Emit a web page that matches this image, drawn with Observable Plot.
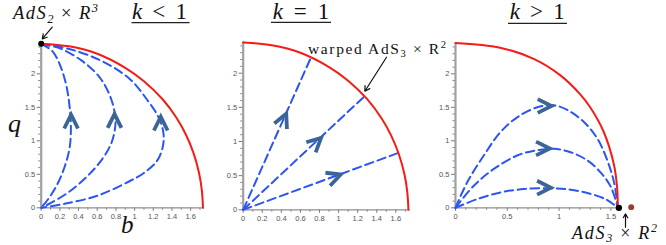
<!DOCTYPE html>
<html><head><meta charset="utf-8">
<script src="https://cdn.jsdelivr.net/npm/d3@7"></script>
<script src="https://cdn.jsdelivr.net/npm/@observablehq/plot@0.6"></script>
<style>
html,body{margin:0;padding:0;background:#fff;}
#wrap{position:relative;width:666px;height:245px;overflow:hidden;background:#fff;}
#wrap svg.pp{position:absolute;top:0;}
#ov{position:absolute;left:0;top:0;pointer-events:none;}
#ov text{font-family:'Liberation Serif','Times New Roman',serif;fill:#111;}
</style></head>
<body><div id="wrap"></div>
<script>
// ---------- data ----------
// red boundary curves [b, q]
const redLeft = [[0,2.45],[0.3,2.41],[0.6,2.30],[0.9,2.09],[1.1,1.89],[1.3,1.62],[1.45,1.34],[1.55,1.09],[1.63,0.82],[1.69,0.52],[1.72,0.26],[1.732,0]];
const redRight = [[0,2.46],[0.43,2.39],[0.76,2.22],[1.01,1.98],[1.2,1.70],[1.3,1.50],[1.43,1.135],[1.53,0.64],[1.56,0.30],[1.567,0]];

// k < 1 flows (from AdS2xR3 point to origin)
const flowsKlt1 = [
  [[0,2.44],[0.05,2.41],[0.13,2.32],[0.21,2.1],[0.27,1.82],[0.305,1.5],[0.318,1.2],[0.305,0.9],[0.26,0.65],[0.19,0.4],[0.1,0.18],[0.03,0.05],[0,0]],
  [[0,2.44],[0.18,2.39],[0.43,2.2],[0.63,1.94],[0.75,1.62],[0.795,1.32],[0.78,1.1],[0.74,0.93],[0.65,0.72],[0.5,0.48],[0.3,0.24],[0.1,0.07],[0,0]],
  [[0,2.44],[0.3,2.37],[0.65,2.19],[0.95,1.92],[1.13,1.62],[1.26,1.34],[1.31,1.1],[1.3,0.9],[1.24,0.7],[1.1,0.52],[0.95,0.4],[0.6,0.18],[0.25,0.06],[0,0]]
];
// k = 1 flows (straight rays)
const flowsK1 = [
  [[0,0],[0.71,2.23]],
  [[0,0],[1.27,1.66]],
  [[0,0],[1.64,0.84]]
];
// k > 1 flows (origin to AdS3xR2 point)
const flowsKgt1 = [
  [[0,0],[0.113,0.38],[0.273,0.78],[0.434,1.13],[0.595,1.35],[0.788,1.5],[0.95,1.53],[1.08,1.46],[1.24,1.28],[1.37,1.03],[1.46,0.73],[1.53,0.38],[1.567,0]],
  [[0,0],[0.177,0.33],[0.37,0.58],[0.595,0.78],[0.788,0.86],[0.95,0.88],[1.11,0.83],[1.27,0.71],[1.40,0.53],[1.5,0.31],[1.567,0]],
  [[0,0],[0.21,0.13],[0.434,0.23],[0.66,0.28],[0.917,0.29],[1.11,0.27],[1.30,0.21],[1.46,0.12],[1.567,0]]
];
// direction chevrons [b, q, angle(deg clockwise from up)]
const chevKlt1 = [[0.32,1.28,0],[0.785,1.29,0],[1.28,1.25,0]];
const chevK1 = [[0.42,1.31,24],[0.76,0.98,47],[0.95,0.48,70]];
const chevKgt1 = [[0.856,1.52,90],[0.84,0.885,90],[0.85,0.30,90]];
// fixed points
const ptsKlt1 = [{b:0, q:2.45, c:"#000", r:4.2}];
const ptsKgt1 = [{b:1.577, q:0, c:"#000", r:4.2},{b:1.696, q:0.01, c:"#9b3b33", r:3.6}];
// annotation arrows [b1,q1,b2,q2]
const arrKlt1 = [[0.118,2.695,0.012,2.52]];
const arrK1 = [[1.502,2.234,1.275,1.736]];
const arrKgt1 = [[1.641,-0.29,1.641,-0.09]];
// ticks
const xMajorA = [0,0.2,0.4,0.6,0.8,1,1.2,1.4,1.6];
const xMinorA = [0.1,0.3,0.5,0.7,0.9,1.1,1.3,1.5,1.7];
const xMajorB = [0,0.5,1,1.5];
const xMinorB = [0.1,0.2,0.3,0.4,0.6,0.7,0.8,0.9,1.1,1.2,1.3,1.4];
const yMajor = [0,0.5,1,1.5,2];
const yMinor = [0.1,0.2,0.3,0.4,0.6,0.7,0.8,0.9,1.1,1.2,1.3,1.4,1.6,1.7,1.8,1.9,2.1,2.2,2.3,2.4];

// ---------- drawing ----------
const chevron = {
  draw(ctx, size) {
    const s = Math.sqrt(size / Math.PI);
    ctx.moveTo(-0.8 * s, 0.75 * s);
    ctx.lineTo(0, -0.85 * s);
    ctx.lineTo(0.8 * s, 0.75 * s);
  }
};
const fmt = d => String(d);
const wrap = document.getElementById("wrap");

function panel(o) {
  const blueRows = o.flows.flatMap((c, i) => c.map(([b, q]) => ({b, q, s: i})));
  const redRows = o.red.map(([b, q]) => ({b, q}));
  const chev = o.chev.map(([b, q, a]) => ({b, q, a}));
  const arr = o.arrows.map(([b1, q1, b2, q2]) => ({b1, q1, b2, q2}));
  const svg = Plot.plot({
    width: o.width, height: 245,
    marginLeft: o.ml, marginRight: o.mr, marginTop: o.mt, marginBottom: o.mb,
    x: {domain: o.xDomain, label: null},
    y: {domain: o.yDomain, label: null},
    style: {background: "transparent", overflow: "visible", fontFamily: "'Liberation Sans', Arial, sans-serif"},
    marks: [
      Plot.axisX({ticks: o.xMinor, tickSize: 2.5, tickFormat: () => "", stroke: "#8a8a8a", label: null}),
      Plot.axisX({ticks: o.xMajor, tickSize: 3.5, tickPadding: 2, tickFormat: fmt, stroke: "#777", fill: "#555", fontSize: 7.5, label: null}),
      Plot.axisY({ticks: yMinor, tickSize: 2.5, tickFormat: () => "", stroke: "#8a8a8a", label: null}),
      Plot.axisY({ticks: yMajor, tickSize: 4, tickPadding: 2, tickFormat: fmt, stroke: "#777", fill: "#555", fontSize: 7.5, label: null}),
      Plot.ruleY([0], {x1: 0, x2: o.xDomain[1], stroke: "#8f8f8f", strokeWidth: 1.3}),
      Plot.ruleX([0], {y1: 0, y2: o.yDomain[1], stroke: "#a0a0a0", strokeWidth: 2.2}),
      Plot.line(blueRows, {x: "b", y: "q", z: "s", curve: o.curve, stroke: "#2c55f2", strokeWidth: 2, strokeDasharray: "8.5,4.5"}),
      Plot.line(redRows, {x: "b", y: "q", curve: "catmull-rom", stroke: "#f51c16", strokeWidth: 2}),
      Plot.dot(chev, {x: "b", y: "q", rotate: "a", symbol: chevron, r: 8.6, fill: "none", stroke: "#3b6597", strokeWidth: 3.8, strokeLinejoin: "miter"}),
      Plot.arrow(arr, {x1: "b1", y1: "q1", x2: "b2", y2: "q2", stroke: "#111", strokeWidth: 1.2, headLength: 7}),
      Plot.dot(o.pts, {x: "b", y: "q", r: "r", fill: "c", stroke: null})
    ]
  });
  svg.classList.add("pp");
  svg.style.left = o.left + "px";
  wrap.appendChild(svg);
}

panel({left: 0, width: 222, ml: 40.7, mr: 222 - 40.7 - 1.75 * 93.4, mt: 207.3 - 2.46 * 67, mb: 245 - 207.3,
  xDomain: [0, 1.75], yDomain: [0, 2.46], xMajor: xMajorA, xMinor: xMinorA,
  red: redLeft, flows: flowsKlt1, curve: "catmull-rom", chev: chevKlt1, pts: ptsKlt1, arrows: arrKlt1});
panel({left: 222, width: 222, ml: 20.7, mr: 222 - 20.7 - 1.75 * 95.4, mt: 209.3 - 2.46 * 68.3, mb: 245 - 209.3,
  xDomain: [0, 1.75], yDomain: [0, 2.46], xMajor: xMajorA, xMinor: xMinorA,
  red: redLeft, flows: flowsK1, curve: "linear", chev: chevK1, pts: [], arrows: arrK1});
panel({left: 430, width: 236, ml: 25, mr: 236 - 25 - 1.6 * 103.6, mt: 207.3 - 2.46 * 67, mb: 245 - 207.3,
  xDomain: [0, 1.6], yDomain: [0, 2.46], xMajor: xMajorB, xMinor: xMinorB,
  red: redRight, flows: flowsKgt1, curve: "catmull-rom", chev: chevKgt1, pts: ptsKgt1, arrows: arrKgt1});

// ---------- text annotations ----------
const ov = `
<svg id="ov" width="666" height="245" xmlns="http://www.w3.org/2000/svg">
  <text x="13" y="19" font-size="18.5" font-style="italic" textLength="85" lengthAdjust="spacing">AdS<tspan font-size="12.5" dy="4">2</tspan><tspan dy="-4" font-style="normal"> × </tspan>R<tspan font-size="12.5" dy="-7">3</tspan></text>
  <text x="132" y="18.5" font-size="23" textLength="55" lengthAdjust="spacing"><tspan font-style="italic">k</tspan> &lt; 1</text>
  <text x="272.7" y="18.5" font-size="23" textLength="56.5" lengthAdjust="spacing"><tspan font-style="italic">k</tspan> = 1</text>
  <text x="509.7" y="18.5" font-size="23" textLength="55" lengthAdjust="spacing"><tspan font-style="italic">k</tspan> &gt; 1</text>
  <line x1="131.5" x2="189.5" y1="22.7" y2="22.7" stroke="#222" stroke-width="1.3"/>
  <line x1="271" x2="331" y1="22.3" y2="22.3" stroke="#222" stroke-width="1.3"/>
  <line x1="508" x2="567" y1="23.3" y2="23.3" stroke="#222" stroke-width="1.3"/>
  <text x="8" y="131.5" font-size="26" font-style="italic">q</text>
  <text x="121" y="233" font-size="25" font-style="italic">b</text>
  <text x="308" y="54" font-size="15.5" textLength="138" lengthAdjust="spacing">warped AdS<tspan font-size="10.5" dy="3">3</tspan><tspan dy="-3"> × R</tspan><tspan font-size="10.5" dy="-6">2</tspan></text>
  <text x="572" y="238.5" font-size="18" font-style="italic" textLength="85" lengthAdjust="spacing">AdS<tspan font-size="12" dy="3">3</tspan><tspan dy="-3" font-style="normal"> × </tspan>R<tspan font-size="12" dy="-7">2</tspan></text>
</svg>`;
wrap.insertAdjacentHTML("beforeend", ov);
</script>
</body></html>
